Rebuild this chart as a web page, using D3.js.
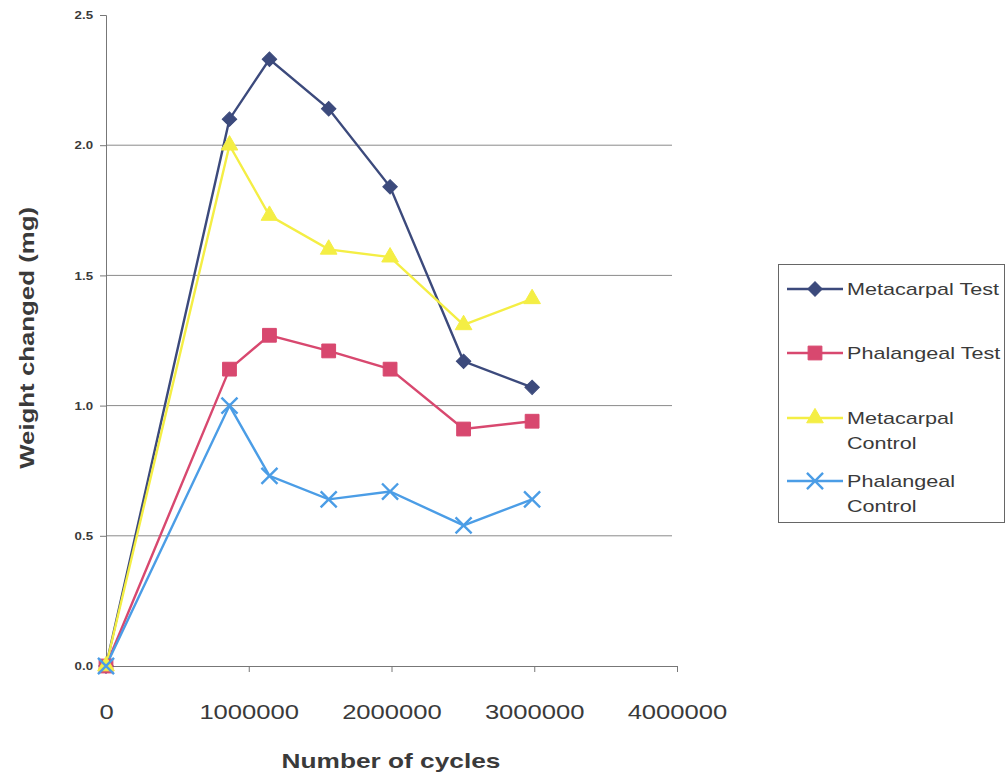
<!DOCTYPE html>
<html>
<head>
<meta charset="utf-8">
<script src="https://cdn.jsdelivr.net/npm/d3@7"></script>
<style>
  body { margin: 0; background: #fff; }
  text { font-family: "Liberation Sans", Arial, sans-serif; fill: #3a3a3a; }
</style>
</head>
<body>
<div id="wrapper"></div>
<script>
// data
const cycles = [0, 865000, 1145000, 1560000, 1990000, 2505000, 2985000]
const metacarpalTest = [0, 2.10, 2.33, 2.14, 1.84, 1.17, 1.07]
const phalangealTest = [0, 1.14, 1.27, 1.21, 1.14, 0.91, 0.94]
const metacarpalControl = [0, 2.00, 1.73, 1.60, 1.57, 1.31, 1.41]
const phalangealControl = [0, 1.00, 0.73, 0.64, 0.67, 0.54, 0.64]
const xTicks = [0, 1000000, 2000000, 3000000, 4000000]
const yTicks = [0, 0.5, 1.0, 1.5, 2.0, 2.5]

const series = [
  { name: ["Metacarpal Test"], values: metacarpalTest, color: "#3c4a7c", marker: "diamond" },
  { name: ["Phalangeal Test"], values: phalangealTest, color: "#d8486f", marker: "square" },
  { name: ["Metacarpal", "Control"], values: metacarpalControl, color: "#f4ee44", marker: "triangle" },
  { name: ["Phalangeal", "Control"], values: phalangealControl, color: "#4b9de6", marker: "cross" },
]

const width = 1007
const height = 775
const margin = { left: 106, top: 15, right: 330, bottom: 109 }

const svg = d3.select("#wrapper").append("svg")
  .attr("width", width)
  .attr("height", height)

const x = d3.scaleLinear().domain([0, 4000000]).range([margin.left, width - margin.right])
const y = d3.scaleLinear().domain([0, 2.5]).range([height - margin.bottom, margin.top])

// the text in the picture is wider than the font draws it
const stretch = (sel, k) => sel.each(function() {
  const w = this.getComputedTextLength()
  d3.select(this).attr("textLength", w * k).attr("lengthAdjust", "spacingAndGlyphs")
})

// gridlines
svg.append("g").selectAll("line")
  .data(yTicks.filter(d => d > 0 && d < 2.5))
  .join("line")
    .attr("x1", x(0))
    .attr("x2", x(4000000) - 5)
    .attr("y1", d => y(d))
    .attr("y2", d => y(d))
    .attr("stroke", "#8a8a8a")
    .attr("stroke-width", 1)

// y axis
const yAxis = svg.append("g")
  .attr("transform", `translate(${x(0)},0)`)
  .call(d3.axisLeft(y).tickValues(yTicks).tickFormat(d3.format(".1f")).tickSize(6).tickPadding(7))
yAxis.select(".domain").attr("stroke", "#777")
yAxis.selectAll(".tick line").attr("stroke", "#777")
yAxis.selectAll("text")
  .style("font-family", "'Liberation Sans', Arial, sans-serif")
  .style("font-size", "11.5px")
  .style("font-weight", "bold")
  .attr("fill", "#444")
  .call(stretch, 1.15)

// x axis
const xAxis = svg.append("g")
  .attr("transform", `translate(0,${y(0)})`)
  .call(d3.axisBottom(x).tickValues(xTicks).tickFormat(d3.format("d")).tickSize(6).tickSizeOuter(0).tickPadding(32))
xAxis.select(".domain").attr("stroke", "#777")
xAxis.selectAll(".tick line").attr("stroke", "#777")
xAxis.selectAll("text")
  .style("font-family", "'Liberation Sans', Arial, sans-serif")
  .style("font-size", "21px")
  .attr("fill", "#333")
  .call(stretch, 1.22)

// axis titles
svg.append("text")
  .attr("transform", `translate(34,${y(1.26)}) rotate(-90)`)
  .attr("text-anchor", "middle")
  .style("font-size", "20px")
  .style("font-weight", "bold")
  .text("Weight changed (mg)")
  .call(stretch, 1.29)

svg.append("text")
  .attr("x", 391)
  .attr("y", 768)
  .attr("text-anchor", "middle")
  .style("font-size", "21px")
  .style("font-weight", "bold")
  .text("Number of cycles")
  .call(stretch, 1.25)

// markers
const symbolFor = {
  diamond: d3.symbol().type(d3.symbolSquare).size(105),
  square: d3.symbol().type(d3.symbolSquare).size(190),
  triangle: d3.symbol().type(d3.symbolTriangle).size(120),
  cross: d3.symbol().type(d3.symbolX).size(170),
}

const drawMarker = (g, s, cx, cy) => {
  const p = g.append("path")
    .attr("d", symbolFor[s.marker]())
    .attr("transform", `translate(${cx},${cy})` + (s.marker === "diamond" ? " rotate(45)" : ""))
  if (s.marker === "cross") {
    p.attr("fill", "none").attr("stroke", s.color).attr("stroke-width", 2.4)
  } else {
    p.attr("fill", s.color).attr("stroke", s.color).attr("stroke-width", 1)
  }
}

const line = d3.line()
  .x((d, i) => x(cycles[i]))
  .y(d => y(d))

const plot = svg.append("g")
series.forEach(s => {
  plot.append("path")
    .datum(s.values)
    .attr("d", line)
    .attr("fill", "none")
    .attr("stroke", s.color)
    .attr("stroke-width", 2.4)
})
series.forEach(s => {
  s.values.forEach((v, i) => drawMarker(plot, s, x(cycles[i]), y(v)))
})

// legend
const legend = svg.append("g")
legend.append("rect")
  .attr("x", 778.5)
  .attr("y", 264.5)
  .attr("width", 226)
  .attr("height", 258)
  .attr("fill", "none")
  .attr("stroke", "#666")
  .attr("stroke-width", 1)

const legendY = [289, 353, 418, 481]
series.forEach((s, i) => {
  const ly = legendY[i]
  legend.append("line")
    .attr("x1", 787).attr("x2", 843)
    .attr("y1", ly).attr("y2", ly)
    .attr("stroke", s.color)
    .attr("stroke-width", 2.4)
  drawMarker(legend, s, 815, ly)
  s.name.forEach((t, j) => {
    legend.append("text")
      .attr("x", 847)
      .attr("y", ly + 6 + j * 25)
      .style("font-size", "17px")
      .attr("fill", "#333")
      .text(t)
      .call(stretch, 1.27)
  })
})
</script>
</body>
</html>
